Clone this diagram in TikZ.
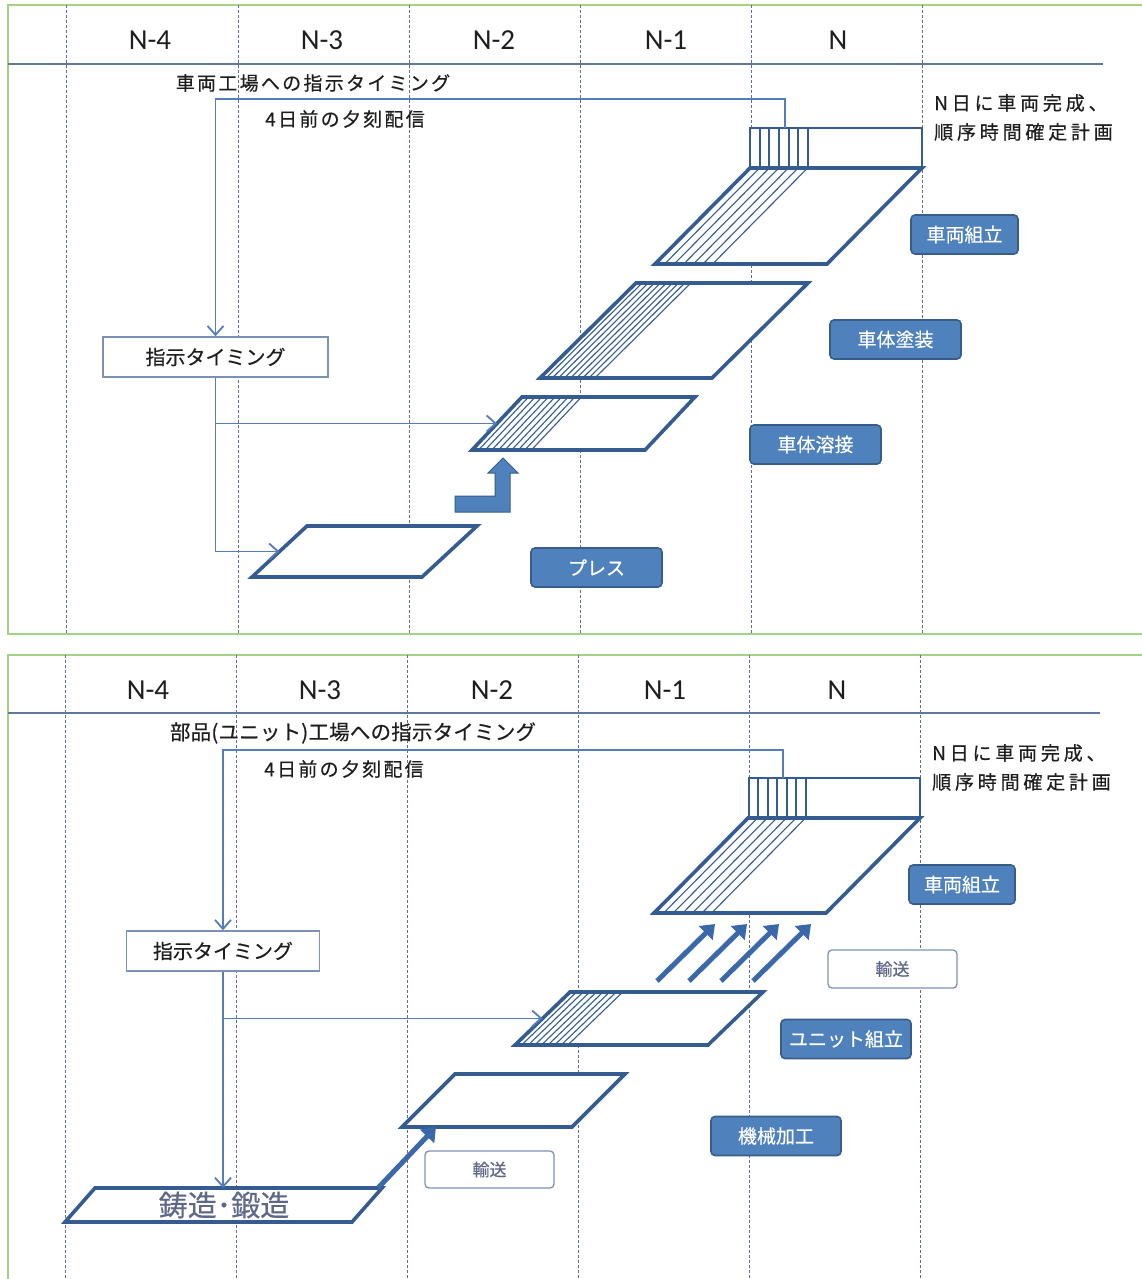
\documentclass[tikz,border=0pt]{standalone}
\usepackage{fontspec}
\setmainfont{Noto Sans CJK JP}[FakeBold=0.4]
\newfontfamily\hdrfont{Carlito}
\newfontfamily\jpwide{Noto Sans CJK JP}[LetterSpace=12,FakeBold=0.4]
\newfontfamily\jpwider{Noto Sans CJK JP}[LetterSpace=20,FakeBold=0.4]
\newfontfamily\jpnarrow{Noto Sans CJK JP}[LetterSpace=1,FakeBold=0.4]
\usetikzlibrary{arrows.meta,calc}

\definecolor{frameG}{RGB}{165,210,135}
\definecolor{gridC}{RGB}{95,112,140}
\definecolor{hdrC}{RGB}{95,120,155}
\definecolor{linkC}{RGB}{85,125,185}
\definecolor{plateC}{RGB}{52,92,145}
\definecolor{tagFill}{RGB}{79,129,189}
\definecolor{tagEdge}{RGB}{56,93,138}
\definecolor{boltC}{RGB}{58,104,168}
\definecolor{inkC}{RGB}{30,30,30}
\definecolor{softEdge}{RGB}{125,145,180}
\definecolor{castC}{RGB}{95,105,135}

% parallelogram plate: name, top y, bottom y, top-left x, top-right x, slant shift
\newcommand\plate[6]{%
  \coordinate (#1-tl) at (#4,#2);
  \coordinate (#1-tr) at (#5,#2);
  \coordinate (#1-br) at (#5-#6,#3);
  \coordinate (#1-bl) at (#4-#6,#3);
  \draw[plateln] (#1-tl) -- (#1-tr) -- (#1-br) -- (#1-bl) -- cycle;}
% slanted hatching: top y, bottom y, top-left x, slant shift, spacing, count
\newcommand\hatching[6]{%
  \foreach \k in {1,...,#6}
    \draw[hatchln] (#3+\k*#5,#1) -- (#3+\k*#5-#4,#2);}

\begin{document}
\begin{tikzpicture}[x=1pt,y=-1pt,
  frame/.style={draw=frameG, line width=1.6pt},
  gridln/.style={draw=gridC, line width=1pt, dash pattern=on 3pt off 2pt},
  hdrln/.style={draw=hdrC, line width=1.6pt},
  hdr/.style={font=\hdrfont\fontsize{29}{30}\selectfont, text=inkC, inner sep=0pt},
  note/.style={font=\jpwide\fontsize{19}{22}\selectfont, text=inkC, inner sep=0pt},
  sidenote/.style={font=\jpwider\fontsize{19}{22}\selectfont, text=inkC, inner sep=0pt, anchor=west},
  linkpl/.style={draw=linkC, line width=1.8pt},
  link/.style={linkpl, -{Straight Barb[length=9pt,width=16pt,line width=1.8pt]}},
  cuebox/.style={draw=softEdge, line width=1.5pt, fill=white, minimum height=40pt,
    inner sep=0pt, text=inkC, font=\fontsize{20}{22}\selectfont},
  plateln/.style={draw=plateC, line width=3.6pt, fill=white},
  hatchln/.style={draw=plateC, line width=1.1pt},
  sched/.style={draw=plateC, line width=1.4pt, fill=white},
  schedln/.style={draw=plateC, line width=1.4pt},
  tag/.style={draw=tagEdge, fill=tagFill, line width=1.6pt, rounded corners=4pt,
    text=white, font=\fontsize{19}{20}\selectfont, minimum height=39pt, inner sep=0pt},
  tagw/.style={draw=softEdge, fill=white, line width=1.3pt, rounded corners=4pt,
    text=castC, font=\fontsize{17}{18}\selectfont, minimum height=38pt, inner sep=0pt},
  bolt/.style={draw=boltC, line width=5pt, -{Triangle[length=13pt,width=19pt]}},
]
\useasboundingbox (0,0) rectangle (1142,1279);
\clip (0,0) rectangle (1142,1279);
\fill[white] (0,0) rectangle (1142,1279);

% ================= upper panel: vehicle plant =================
\draw[frame] (8,5) rectangle (1180,634);
\foreach \x in {66,238,409,580,751,922} \draw[gridln] (\x,5) -- (\x,634);
\draw[hdrln] (8,64) -- (1103,64);
\node[hdr] (ua) at (150,40) {N-4};
\node[hdr] (ub) at (322,40) {N-3};
\node[hdr] (uc) at (494,40) {N-2};
\node[hdr] (ud) at (666,40) {N-1};
\node[hdr] (ue) at (838,40) {N};

\node[note] (instrA) at (313,83) {車両工場への指示タイミング};
\node[note] (eveA) at (345,119) {4日前の夕刻配信};
\node[sidenote] (planA1) at (934,103) {N日に車両完成、};
\node[sidenote] (planA2) at (934,132) {順序時間確定計画};

% sequence strip
\draw[sched] (750,128) rectangle (922,167);
\foreach \x in {760,769,779,789,798,808} \draw[schedln] (\x,128) -- (\x,167);
\coordinate (tapA) at (785,128);

% plates
\plate{asm}{168}{264}{750}{922}{95}
\hatching{168}{264}{750}{95}{9.6}{6}
\plate{paint}{283}{378}{636}{808}{96}
\hatching{283}{378}{636}{96}{6.1}{9}
\plate{weld}{397}{450}{522}{695}{50}
\hatching{397}{450}{522}{50}{6.6}{9}
\plate{press}{526}{577}{307}{477}{55}

% instruction flow
\node[cuebox, minimum width=225pt] (cueA) at (215.5,357) {指示タイミング};
\draw[link] (tapA) -- ++(0,-29) -| (cueA.north);
\draw[link] (cueA.south) |- ($(weld-bl)!0.5!(weld-tl)$);
\draw[link] (cueA.south) |- ($(press-bl)!0.5!(press-tl)$);

% press to welding
\filldraw[fill=tagFill, draw=tagEdge, line width=1pt]
  (455,496) -- (495,496) -- (495,473) -- (488,473) -- (503,458) -- (518,473)
  -- (510,473) -- (510,512) -- (455,512) -- cycle;

% process tags
\node[tag, minimum width=107pt] (tA1) at (964.5,234.5) {車両組立};
\node[tag, minimum width=131pt] (tA2) at (895.5,339.5) {車体塗装};
\node[tag, minimum width=131pt] (tA3) at (815.5,444.5) {車体溶接};
\node[tag, minimum width=131pt] (tA4) at (596.5,567.5) {プレス};

% ================= lower panel: unit plant =================
\draw[frame] (8,655) rectangle (1180,1320);
\foreach \x in {65,236,407,578,749,920} \draw[gridln] (\x,655) -- (\x,1300);
\draw[hdrln] (8,713) -- (1100,713);
\node[hdr] (la) at (148,690) {N-4};
\node[hdr] (lb) at (320,690) {N-3};
\node[hdr] (lc) at (492,690) {N-2};
\node[hdr] (ld) at (665,690) {N-1};
\node[hdr] (le) at (837,690) {N};

\node[note, font=\jpnarrow\fontsize{20.5}{22}\selectfont] (instrB) at (353,733) {部品(ユニット)工場への指示タイミング};
\node[note] (eveB) at (344,769) {4日前の夕刻配信};
\node[sidenote] (planB1) at (932,753) {N日に車両完成、};
\node[sidenote] (planB2) at (932,782) {順序時間確定計画};

\draw[sched] (749,778) rectangle (920,817);
\foreach \x in {758,768,777,787,796,806} \draw[schedln] (\x,778) -- (\x,817);
\coordinate (tapB) at (783,778);

\plate{asmB}{818}{913}{748}{920}{94}
\hatching{818}{913}{748}{94}{9.6}{6}
\plate{unit}{992}{1045}{570}{763}{55}
\hatching{992}{1045}{570}{55}{6.6}{8}
\plate{mach}{1074}{1127}{455}{625}{53}
\plate{cast}{1188}{1222}{95}{382}{30}
\node[text=castC, font=\fontsize{29}{30}\selectfont, inner sep=0pt] (castT) at (224,1205) {鋳造･鍛造};

\node[cuebox, minimum width=193pt] (cueB) at (223,951) {指示タイミング};
\draw[link] (tapB) -- ++(0,-28) -| (cueB.north);
\draw[link] (cueB.south) |- ($(unit-bl)!0.5!(unit-tl)$);
\draw[link] (cueB.south) -- (cueB.south |- cast-tl);

% transport arrows
\coordinate (castOut) at ($(cast-tr)+(-4,0)$);
\coordinate (machIn) at ($(mach-bl)!0.2!(mach-br)$);
\draw[bolt] (castOut) -- (machIn);
\foreach \i/\sx in {1/657,2/689,3/721,4/753} {
  \coordinate (up\i) at (\sx,981);
  \coordinate (dn\i) at (\sx+58,924);
  \draw[bolt] (up\i) -- (dn\i);
}

\node[tag, minimum width=106pt] (tB1) at (962,884.5) {車両組立};
\node[tagw, minimum width=129pt] (tB2) at (892.5,969) {輸送};
\node[tag, minimum width=130pt] (tB3) at (846,1039) {ユニット組立};
\node[tag, minimum width=130pt] (tB4) at (776,1136) {機械加工};
\node[tagw, minimum width=129pt, minimum height=37pt] (tB5) at (489.5,1169.5) {輸送};
\end{tikzpicture}
\end{document}
